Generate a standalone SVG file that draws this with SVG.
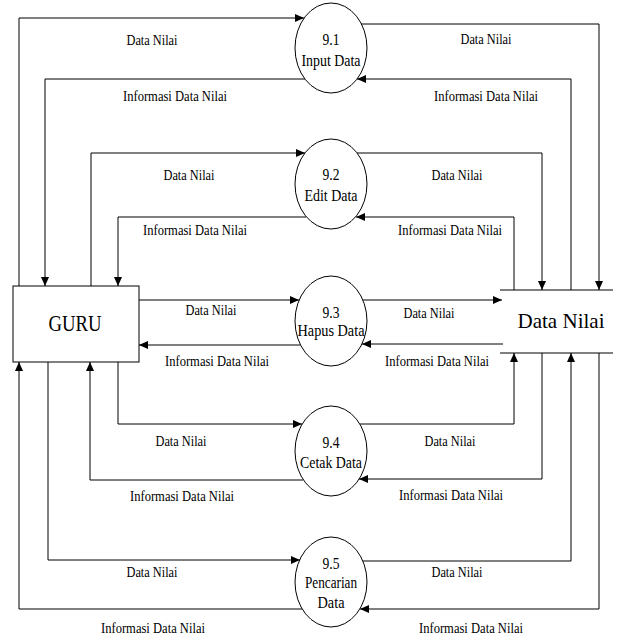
<svg xmlns="http://www.w3.org/2000/svg" width="618" height="640" viewBox="0 0 618 640">
  <defs>
    <marker id="arrow" markerUnits="userSpaceOnUse" markerWidth="10" markerHeight="9" refX="9" refY="4" orient="auto">
      <path d="M0,0 L9,4 L0,8 z" fill="#000"/>
    </marker>
    <style>
      .proc { fill: #fff; stroke: #000; stroke-width: 1; }
      .box { fill: #fff; stroke: #000; stroke-width: 1; }
      .flow { fill: none; stroke: #000; stroke-width: 1; marker-end: url(#arrow); }
      .store { stroke: #000; stroke-width: 1; }
      text { font-family: "Liberation Serif", "Times New Roman", serif; fill: #000; text-anchor: middle; }
      .lbl { font-size: 14px; }
      .ptx { font-size: 16px; }
      .big { font-size: 22px; }
    </style>
  </defs>
  <rect width="618" height="640" fill="#fff"/>

  <!-- data flows -->
  <g id="connectors">
    <!-- 9.1 Input Data -->
    <polyline class="flow" points="19,286 19,18 304,18"/>
    <polyline class="flow" points="305,79 45,79 45,286"/>
    <polyline class="flow" points="361,24 599,24 599,290"/>
    <polyline class="flow" points="571,290 571,79 357,79"/>
    <!-- 9.2 Edit Data -->
    <polyline class="flow" points="91,286 91,153 305,153"/>
    <polyline class="flow" points="306,217 118,217 118,286"/>
    <polyline class="flow" points="357,153 542,153 542,290"/>
    <polyline class="flow" points="514,290 514,217 356,217"/>
    <!-- 9.3 Hapus Data -->
    <polyline class="flow" points="139,300 299,300"/>
    <polyline class="flow" points="363,300 502,300"/>
    <polyline class="flow" points="503,344 362,344"/>
    <polyline class="flow" points="300,345 139,345"/>
    <!-- 9.4 Cetak Data -->
    <polyline class="flow" points="118,362 118,424 302,424"/>
    <polyline class="flow" points="303,480 90,480 90,362"/>
    <polyline class="flow" points="360,424 514,424 514,353"/>
    <polyline class="flow" points="542,353 542,479 359,479"/>
    <!-- 9.5 Pencarian Data -->
    <polyline class="flow" points="48,362 48,560 300,560"/>
    <polyline class="flow" points="302,609 19,609 19,362"/>
    <polyline class="flow" points="363,561 571,561 571,353"/>
    <polyline class="flow" points="599,353 599,609 360,609"/>
  </g>

  <!-- flow labels -->
  <g id="labels">
    <text class="lbl" x="152" y="45" textLength="51" lengthAdjust="spacingAndGlyphs">Data Nilai</text>
    <text class="lbl" x="175" y="101" textLength="104" lengthAdjust="spacingAndGlyphs">Informasi Data Nilai</text>
    <text class="lbl" x="486" y="44" textLength="51" lengthAdjust="spacingAndGlyphs">Data Nilai</text>
    <text class="lbl" x="486" y="101" textLength="104" lengthAdjust="spacingAndGlyphs">Informasi Data Nilai</text>

    <text class="lbl" x="189" y="180" textLength="51" lengthAdjust="spacingAndGlyphs">Data Nilai</text>
    <text class="lbl" x="195" y="235" textLength="104" lengthAdjust="spacingAndGlyphs">Informasi Data Nilai</text>
    <text class="lbl" x="457" y="180" textLength="51" lengthAdjust="spacingAndGlyphs">Data Nilai</text>
    <text class="lbl" x="450" y="235" textLength="104" lengthAdjust="spacingAndGlyphs">Informasi Data Nilai</text>

    <text class="lbl" x="211" y="315" textLength="51" lengthAdjust="spacingAndGlyphs">Data Nilai</text>
    <text class="lbl" x="217" y="366" textLength="104" lengthAdjust="spacingAndGlyphs">Informasi Data Nilai</text>
    <text class="lbl" x="429" y="318" textLength="51" lengthAdjust="spacingAndGlyphs">Data Nilai</text>
    <text class="lbl" x="437" y="366" textLength="104" lengthAdjust="spacingAndGlyphs">Informasi Data Nilai</text>

    <text class="lbl" x="181" y="446" textLength="51" lengthAdjust="spacingAndGlyphs">Data Nilai</text>
    <text class="lbl" x="182" y="501" textLength="104" lengthAdjust="spacingAndGlyphs">Informasi Data Nilai</text>
    <text class="lbl" x="450" y="446" textLength="51" lengthAdjust="spacingAndGlyphs">Data Nilai</text>
    <text class="lbl" x="451" y="500" textLength="104" lengthAdjust="spacingAndGlyphs">Informasi Data Nilai</text>

    <text class="lbl" x="152" y="577" textLength="51" lengthAdjust="spacingAndGlyphs">Data Nilai</text>
    <text class="lbl" x="153" y="633" textLength="104" lengthAdjust="spacingAndGlyphs">Informasi Data Nilai</text>
    <text class="lbl" x="457" y="577" textLength="51" lengthAdjust="spacingAndGlyphs">Data Nilai</text>
    <text class="lbl" x="471" y="633" textLength="104" lengthAdjust="spacingAndGlyphs">Informasi Data Nilai</text>
  </g>

  <!-- external entity -->
  <g id="guru">
    <rect class="box" x="13" y="286" width="126" height="76"/>
    <text class="big" x="75" y="331" style="font-size:23px" textLength="53" lengthAdjust="spacingAndGlyphs">GURU</text>
  </g>

  <!-- data store -->
  <g id="data-nilai">
    <line class="store" x1="500" y1="290" x2="613" y2="290"/>
    <line class="store" x1="500" y1="353" x2="613" y2="353"/>
    <text class="big" x="561" y="328" textLength="87" lengthAdjust="spacingAndGlyphs">Data Nilai</text>
  </g>

  <!-- processes -->
  <g id="processes">
    <g id="p91">
      <ellipse class="proc" cx="331" cy="48" rx="36" ry="45"/>
      <text class="ptx" x="331" y="45" textLength="17" lengthAdjust="spacingAndGlyphs">9.1</text>
      <text class="ptx" x="331" y="66" textLength="59" lengthAdjust="spacingAndGlyphs">Input Data</text>
    </g>
    <g id="p92">
      <ellipse class="proc" cx="331" cy="184" rx="36" ry="45"/>
      <text class="ptx" x="331" y="180" textLength="17" lengthAdjust="spacingAndGlyphs">9.2</text>
      <text class="ptx" x="331" y="201" textLength="53" lengthAdjust="spacingAndGlyphs">Edit Data</text>
    </g>
    <g id="p93">
      <ellipse class="proc" cx="331" cy="321" rx="36" ry="45"/>
      <text class="ptx" x="331" y="318" textLength="17" lengthAdjust="spacingAndGlyphs">9.3</text>
      <text class="ptx" x="331" y="336" textLength="67" lengthAdjust="spacingAndGlyphs">Hapus Data</text>
    </g>
    <g id="p94">
      <ellipse class="proc" cx="331" cy="451" rx="36" ry="45"/>
      <text class="ptx" x="331" y="448" textLength="17" lengthAdjust="spacingAndGlyphs">9.4</text>
      <text class="ptx" x="331" y="468" textLength="62" lengthAdjust="spacingAndGlyphs">Cetak Data</text>
    </g>
    <g id="p95">
      <ellipse class="proc" cx="331" cy="582" rx="36" ry="45"/>
      <text class="ptx" x="331" y="569" textLength="17" lengthAdjust="spacingAndGlyphs">9.5</text>
      <text class="ptx" x="331" y="588" textLength="52" lengthAdjust="spacingAndGlyphs">Pencarian</text>
      <text class="ptx" x="331" y="608" textLength="27" lengthAdjust="spacingAndGlyphs">Data</text>
    </g>
  </g>
</svg>
